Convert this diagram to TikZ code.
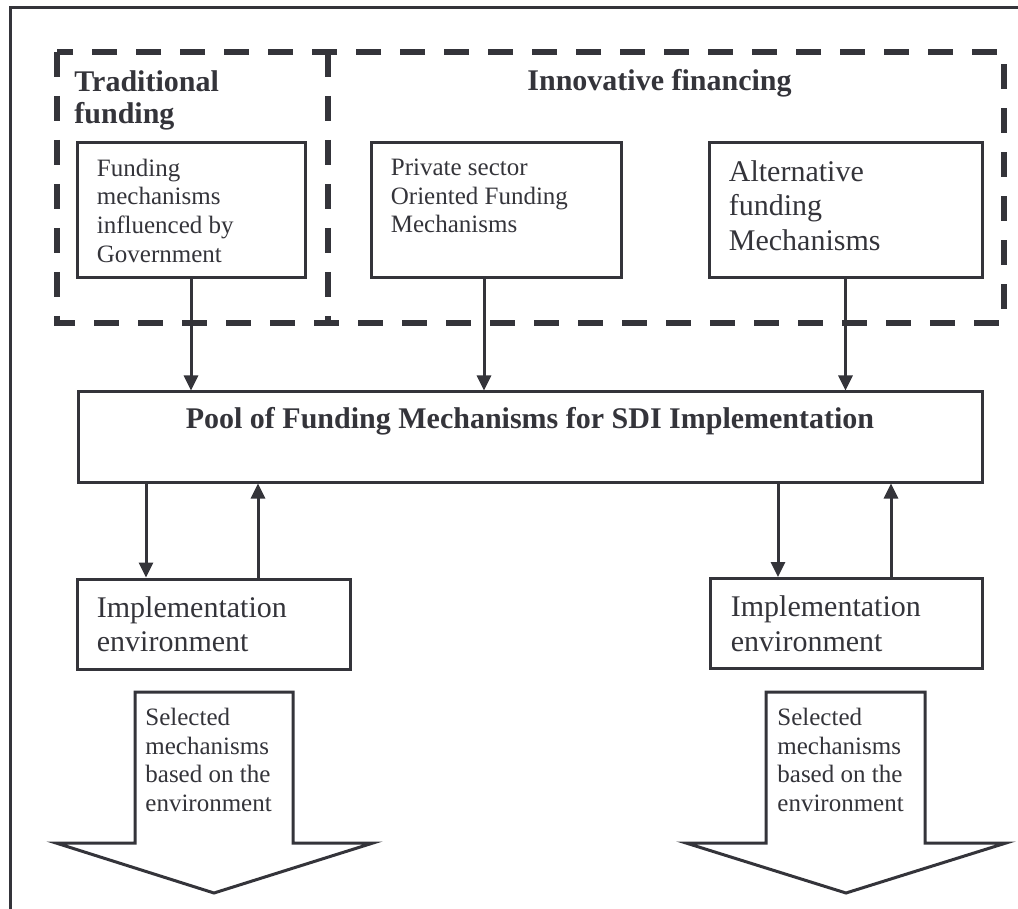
\documentclass[tikz,border=0pt]{standalone}
\usepackage{fontspec}
\setmainfont{Liberation Serif}
\usetikzlibrary{arrows.meta}
\definecolor{ink}{RGB}{52,52,58}

\begin{document}
\begin{tikzpicture}[x=0.5pt, y=-0.5pt,
    every node/.style={text=ink},
    frm/.style={draw=ink, line width=1.5pt},
    grp/.style={draw=ink, line width=3.2pt, dash pattern=on 12.5pt off 9.5pt},
    box/.style={draw=ink, line width=1.5pt, inner sep=0pt},
    arr/.style={draw=ink, line width=1.5pt, -{Triangle[length=7.5pt, width=7pt]}},
    txt/.style={anchor=north west, inner sep=0pt, align=left, font={\fontsize{12.5pt}{14.3pt}\selectfont}},
    bigtxt/.style={anchor=north west, inner sep=0pt, align=left, font={\fontsize{15pt}{17.3pt}\selectfont}},
    hdr/.style={inner sep=0pt, align=left, font={\fontsize{15pt}{16pt}\selectfont\bfseries}}]
        \useasboundingbox (0,0) rectangle (1018,909);

        % Frame and groups
        \draw[frm] (10,909) -- (10,8) -- (1018,8);
        \draw[grp] (57,52) rectangle (1004,323);
        \draw[grp] (328,52) -- (328,323);
        \node[hdr, anchor=north west] (trad) at (74,70) {Traditional\\funding};
        \node[hdr, anchor=base west] (innov) at (527,91) {Innovative financing};

        % Source boxes
        \node[box, minimum width=114pt, minimum height=67.5pt] (gov) at (191,210.5) {};
        \node[box, minimum width=125pt, minimum height=67.5pt] (priv) at (496,210.5) {};
        \node[box, minimum width=136.5pt, minimum height=67.5pt] (alt) at (845.5,210.5) {};
        \node[txt] (govtxt) at ([xshift=10.5pt, yshift=-8.5pt]gov.north west) {Funding\\mechanisms\\influenced by\\Government};
        \node[txt] (privtxt) at ([xshift=10.5pt, yshift=-8.5pt]priv.north west) {Private sector\\Oriented Funding\\Mechanisms};
        \node[bigtxt] (alttxt) at ([xshift=10.5pt, yshift=-9.3pt]alt.north west) {Alternative\\funding\\Mechanisms};

        % Pool
        \node[box, minimum width=452pt, minimum height=45pt] (pool) at (530,437) {};
        \node[hdr, anchor=base] (pooltxt) at ([yshift=-19pt]pool.north) {Pool of Funding Mechanisms for SDI Implementation};

        \draw[arr] (gov.south) -- (gov.south |- pool.north);
        \draw[arr] ([xshift=-6pt]priv.south) -- ([xshift=-6pt]priv.south |- pool.north);
        \draw[arr] (alt.south) -- (alt.south |- pool.north);

        % Environments
        \node[box, minimum width=136.5pt, minimum height=45pt] (envl) at (213.5,624) {};
        \node[box, minimum width=136pt, minimum height=45pt] (envr) at (846,623.5) {};
        \node[bigtxt] (envltxt) at ([xshift=10.5pt, yshift=-9.3pt]envl.north west) {Implementation\\environment};
        \node[bigtxt] (envrtxt) at ([xshift=11pt, yshift=-9.3pt]envr.north west) {Implementation\\environment};

        \coordinate (dl) at ([xshift=-33.75pt]envl.north);
        \coordinate (ul) at ([xshift=22.25pt]envl.north);
        \coordinate (dr) at ([xshift=-34pt]envr.north);
        \coordinate (ur) at ([xshift=22.5pt]envr.north);
        \draw[arr] (dl |- pool.south) -- (dl);
        \draw[arr] (ul) -- (ul |- pool.south);
        \draw[arr] (dr |- pool.south) -- (dr);
        \draw[arr] (ur) -- (ur |- pool.south);

        % Selected mechanisms
        \draw[frm, fill=white] (135,692) -- (293,692) -- (293,843) -- (373,843) -- (214,893) -- (56,843) -- (135,843) -- cycle;
        \draw[frm, fill=white] (766,692) -- (925,692) -- (925,843) -- (1006,843) -- (846,893) -- (686,843) -- (766,843) -- cycle;
        \coordinate (sell) at (135,692);
        \coordinate (selr) at (766,692);
        \node[txt] (selltxt) at ([xshift=5pt, yshift=-8pt]sell) {Selected\\mechanisms\\based on the\\environment};
        \node[txt] (selrtxt) at ([xshift=5.5pt, yshift=-8pt]selr) {Selected\\mechanisms\\based on the\\environment};
    \end{tikzpicture}
\end{document}
